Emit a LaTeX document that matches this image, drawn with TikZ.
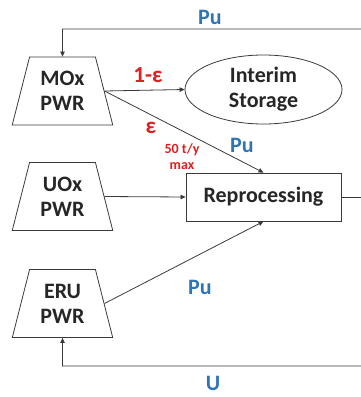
\documentclass[tikz,border=0pt]{standalone}
\usepackage{fontspec}
\setmainfont{Carlito}
\usetikzlibrary{shapes.geometric,arrows.meta}
\definecolor{lbl}{HTML}{2E75B6}
\definecolor{rd}{HTML}{E0201E}
\definecolor{ln}{HTML}{3A3A3A}
\tikzset{
  reactor/.style={trapezium, draw=ln, line width=0.8pt, trapezium angle=73.6, trapezium stretches=true, minimum width=101pt, minimum height=68pt, inner sep=0pt, align=center, font=\fontsize{22}{25}\selectfont\bfseries, text=black!85},
  boxn/.style={draw=ln, line width=0.8pt, minimum width=155pt, minimum height=48pt, inner sep=0pt, font=\fontsize{22}{25}\selectfont\bfseries, text=black!85},
  ellnode/.style={ellipse, draw=ln, line width=0.8pt, minimum width=157pt, minimum height=69pt, inner sep=0pt, align=center, font=\fontsize{22}{25}\selectfont\bfseries, text=black!85},
  flow/.style={draw=ln, line width=0.8pt, -{Triangle[length=5pt,width=4.5pt]}},
  plain/.style={draw=ln, line width=0.8pt},
  bl/.style={text=lbl, font=\fontsize{22}{24}\selectfont\bfseries, inner sep=0pt},
  rl/.style={text=rd, font=\fontsize{23}{24}\selectfont\bfseries, inner sep=0pt},
  rs/.style={text=rd, font=\fontsize{14}{16}\selectfont\bfseries, inner sep=0pt},
}
\begin{document}
\begin{tikzpicture}[x=1pt,y=-1pt]
\useasboundingbox (0,0) rectangle (361,397);
\node[reactor] (mox) at (62.5,91) {MOx\\PWR};
\node[reactor] (uox) at (62.5,196.5) {UOx\\PWR};
\node[reactor] (eru) at (62.5,303.5) {ERU\\PWR};
\node[ellnode] (sto) at (263.5,89.5) {Interim\\Storage};
\node[boxn] (rep) at (263.5,197) {Reprocessing};
\coordinate (tr) at (361,29);
\coordinate (tl) at (62.5,29);
\coordinate (mr) at (361,197);
\coordinate (br) at (361,366);
\coordinate (bl) at (62.5,366);
\draw[flow] (tr) -- (tl) -- (mox.north);
\draw[flow] (mox.east) -- (sto.west);
\draw[flow] (mox.east) -- (rep.north);
\draw[flow] (uox.east) -- (rep.west);
\draw[flow] (eru.east) -- (rep.south);
\draw[plain] (rep.east) -- (mr);
\draw[flow] (br) -- (bl) -- (eru.south);
\node[bl] (pu1) at (210,17) {Pu};
\node[rl] (eps1) at (148,75) {1-ε};
\node[rl] (eps2) at (151,128) {ε};
\node[rs] (lim) at (182,150) {50 t/y};
\node[rs] (mx) at (182,166) {max};
\node[bl] (pu2) at (242,145) {Pu};
\node[bl] (pu3) at (200,287) {Pu};
\node[bl] (u) at (213,383) {U};
\end{tikzpicture}
\end{document}
